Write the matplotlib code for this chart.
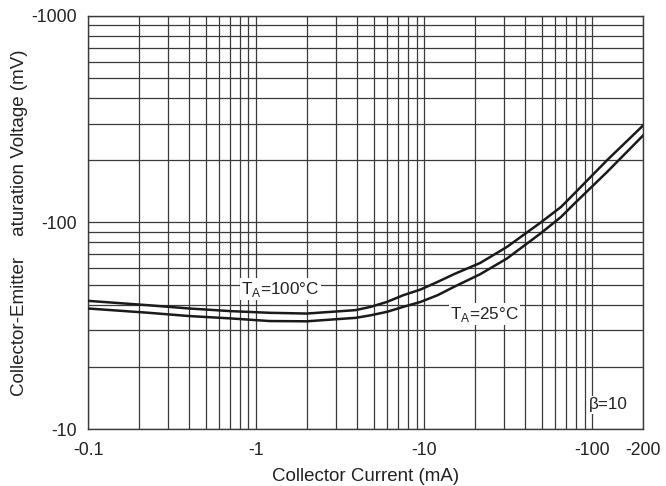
import matplotlib
matplotlib.use("Agg")
import matplotlib.pyplot as plt
from matplotlib.ticker import FixedLocator, NullFormatter, LogLocator

plt.rcParams['font.family'] = ['Liberation Sans', 'DejaVu Sans']

# Data (collector current in mA, Vce(sat) in mV, magnitudes)
current = [0.1, 0.23, 0.4, 0.7, 1.2, 2, 3.9, 4.8, 6, 7.5, 9.5, 12, 15, 21.5, 31, 49, 65, 78, 122, 200]
vce_100 = [41.7, 39.7, 38.3, 37.2, 36.5, 36.2, 37.6, 39.0, 41.2, 44.4, 47.3, 51.5, 56.1, 63.6,
           76.0, 99.5, 118.6, 137.7, 199.5, 294]
vce_25 = [38.3, 36.5, 35.2, 34.3, 33.3, 33.2, 34.5, 35.5, 36.9, 39.0, 41.2, 44.4, 48.7, 56.1,
          66.8, 88.2, 106.1, 123.0, 175, 263]

x_ticks = [0.1, 1, 10, 100, 200]
x_ticklabels = ['-0.1', '-1', '-10', '-100', '-200']
y_ticks = [10, 100, 1000]
y_ticklabels = ['-10', '-100', '-1000']

fig = plt.figure(figsize=(6.66, 4.86), dpi=100)
ax = fig.add_axes([88/666, 1-429/486, (643-88)/666, (429-15.7)/486])

ax.set_xscale('log')
ax.set_yscale('log')
ax.set_xlim(0.1, 200)
ax.set_ylim(10, 1000)

ax.plot(current, vce_100, color='#1a1a1a', lw=1.8, zorder=3)
ax.plot(current, vce_25, color='#1a1a1a', lw=1.8, zorder=3)

ax.xaxis.set_major_locator(FixedLocator(x_ticks))
ax.set_xticklabels(x_ticklabels)
ax.yaxis.set_major_locator(FixedLocator(y_ticks))
ax.set_yticklabels(y_ticklabels)
ax.xaxis.set_minor_locator(LogLocator(base=10, subs=range(2, 10), numticks=20))
ax.yaxis.set_minor_locator(LogLocator(base=10, subs=range(2, 10), numticks=20))
ax.xaxis.set_minor_formatter(NullFormatter())
ax.yaxis.set_minor_formatter(NullFormatter())

ax.grid(True, which='both', color='#3a3a3a', lw=0.9)
ax.tick_params(which='both', length=0, labelsize=12.7, colors='#222222')
ax.tick_params(axis='x', pad=9)
ax.tick_params(axis='y', pad=8)
for s in ax.spines.values():
    s.set_color('#3a3a3a')
    s.set_linewidth(1.0)

ax.set_xlabel('Collector Current (mA)', fontsize=13.5, color='#222222', labelpad=7)
ax.set_ylabel('Collector-Emitter    aturation Voltage (mV)', fontsize=13.5, color='#222222', labelpad=2.5)

bbox = dict(facecolor='white', edgecolor='none', pad=1.0)
ax.text(1.39, 47.4, r'T$_\mathregular{A}$=100°C', fontsize=12.3, color='#222222', ha='center', va='center', bbox=bbox, zorder=4)
ax.text(22.8, 35.9, r'T$_\mathregular{A}$=25°C', fontsize=12.3, color='#222222', ha='center', va='center', bbox=bbox, zorder=4)
ax.text(124.5, 13.1, 'β=10', fontsize=12.3, color='#222222', ha='center', va='center', bbox=bbox, zorder=4)

fig.savefig('out.png', dpi=100)
